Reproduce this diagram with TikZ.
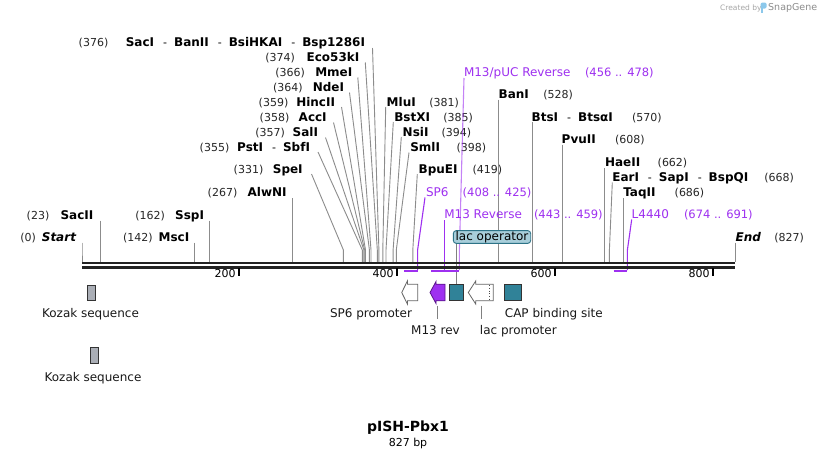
\documentclass[tikz,border=0pt]{standalone}
\usepackage{fontspec}
\setmainfont{DejaVu Sans}
\definecolor{prim}{RGB}{158,48,240}
\definecolor{primdark}{RGB}{90,20,140}
\definecolor{teal}{RGB}{48,130,152}
\definecolor{lacfill}{RGB}{168,206,218}
\definecolor{lacdraw}{RGB}{45,115,135}
\definecolor{kozak}{RGB}{170,174,182}
\definecolor{bbcol}{RGB}{34,34,34}
\definecolor{logoblue}{RGB}{140,200,235}
\newcommand\Sep{{\normalfont\fontsize{11}{13}\selectfont\hspace{9pt}-\hspace{7pt}}}
\newcommand\enz[9]{%
 \node[nmf,anchor=base #2] (#1) at (#3,#4+4.3) {#5};
 \node[nbf,anchor=base #2] (#1-n) at (#6,#4+4.3) {#7};
 \coordinate (#1-a) at (#8);
 \coordinate (#1-b) at (#9,250);
 \coordinate (#1-c) at (#9,262);
 \draw[enzline] (#1-a) -- (#1-b) -- (#1-c);
}
\begin{document}
\begin{tikzpicture}[x=1pt,y=-1pt,
  nmf/.style={inner sep=0,outer sep=0,font=\fontsize{12}{14}\selectfont\bfseries,text=black},
  nbf/.style={inner sep=0,outer sep=0,font=\fontsize{11}{13}\selectfont,text=black!85},
  enzline/.style={draw=black!45,line width=0.9pt},
  primline/.style={draw=prim,line width=1.1pt},
  primbar/.style={draw=prim,line width=2pt},
  primlbl/.style={inner sep=0,outer sep=0,font=\fontsize{12}{14}\selectfont,text=prim},
  primnum/.style={inner sep=0,outer sep=0,font=\fontsize{11.5}{13}\selectfont,text=prim},
  bb/.style={draw=bbcol,line width=2.8pt},
  tickmark/.style={draw=black,line width=2pt},
  featlbl/.style={inner sep=0,outer sep=0,font=\fontsize{12}{14}\selectfont,text=black!90},
  featline/.style={draw=black!50,line width=0.9pt},
  boxfeat/.style={draw=black!80,line width=0.8pt},
  lacbox/.style={draw=lacdraw,fill=lacfill,rounded corners=3pt,line width=0.9pt,inner sep=0,
     minimum width=77.4pt,minimum height=12.8pt,text height=8.6pt,text depth=2.4pt,
     font=\fontsize{12}{14}\selectfont,text=black}
]
\useasboundingbox (0,0) rectangle (818,458);
\fill[white] (0,0) rectangle (818,458);

% ---- left-side enzyme labels ----
\enz{e376}{east}{365}{42.3}{SacI\Sep BanII\Sep BsiHKAI\Sep Bsp1286I}{108.3}{(376)}{372.5,48}{378.9}
\enz{e374}{east}{359.3}{57.3}{Eco53kI}{295}{(374)}{365.3,62.5}{377.3}
\enz{e366}{east}{352.3}{72.3}{MmeI}{305}{(366)}{357.8,77.5}{371.0}
\enz{e364}{east}{344}{87.3}{NdeI}{302.7}{(364)}{349.5,92.5}{369.4}
\enz{e359}{east}{335}{101.7}{HincII}{288.3}{(359)}{341.5,107}{365.5}
\enz{e358}{east}{326.7}{117.3}{AccI}{289.3}{(358)}{333.5,122.5}{364.7}
\enz{e357}{east}{318}{132.3}{SalI}{285}{(357)}{325.5,137.5}{363.9}
\enz{e355}{east}{310}{146.7}{PstI\Sep SbfI}{229.3}{(355)}{318,152}{362.3}
\enz{e331}{east}{302.7}{169.3}{SpeI}{263.3}{(331)}{311.5,174}{343.4}
\enz{e267}{east}{286.7}{191.7}{AlwNI}{237.3}{(267)}{292.8,198}{292.8}
\enz{e23}{east}{93.3}{215}{SacII}{49.3}{(23)}{100.2,220.5}{100.2}
\enz{e162}{east}{204}{215}{SspI}{165}{(162)}{209.9,220.5}{209.9}
\enz{e142}{east}{189.3}{237.3}{MscI}{152.7}{(142)}{194.1,242.5}{194.1}
\enz{e0}{east}{76}{237.3}{\itshape Start}{36}{(0)}{82,242.5}{82}

% ---- right-side enzyme labels ----
\enz{e381}{west}{386.7}{101.7}{MluI}{429.3}{(381)}{385.7,107}{382.8}
\enz{e385}{west}{394.3}{116.7}{BstXI}{443.3}{(385)}{393.3,122}{386.0}
\enz{e394}{west}{402.7}{131.7}{NsiI}{441.7}{(394)}{401.3,137}{393.1}
\enz{e398}{west}{410.3}{147.3}{SmlI}{456.7}{(398)}{409,152.5}{396.3}
\enz{e419}{west}{418.7}{168.7}{BpuEI}{472.7}{(419)}{417.3,174}{412.8}
\enz{e528}{west}{498.7}{94}{BanI}{543.3}{(528)}{498.9,99.5}{498.9}
\enz{e570}{west}{531.7}{116.7}{BtsI\Sep BtsαI}{632}{(570)}{532.1,122}{532.1}
\enz{e608}{west}{561.7}{139}{PvuII}{615}{(608)}{562.1,144.5}{562.1}
\enz{e662}{west}{605}{162.3}{HaeII}{657.7}{(662)}{604.7,168}{604.7}
\enz{e668}{west}{612.3}{176.7}{EarI\Sep SapI\Sep BspQI}{764.3}{(668)}{612.3,182.5}{609.4}
\enz{e686}{west}{623.3}{192.3}{TaqII}{674.7}{(686)}{623.7,198}{623.7}
\enz{e827}{west}{735.7}{236.7}{\itshape End}{774.3}{(827)}{735,242.5}{735}

% ---- primers ----
\node[primlbl,anchor=base west] (pM13pUC) at (464,76) {M13/pUC Reverse};
\node[primnum,anchor=base west] (pM13pUC-n) at (585,76) {(456 .. 478)};
\node[primlbl,anchor=base west] (pSP6) at (426,196) {SP6};
\node[primnum,anchor=base west] (pSP6-n) at (462.7,196) {(408 .. 425)};
\node[primlbl,anchor=base west] (pM13) at (444.3,218.3) {M13 Reverse};
\node[primnum,anchor=base west] (pM13-n) at (534,218.3) {(443 .. 459)};
\node[primlbl,anchor=base west] (pL44) at (631.7,218.3) {L4440};
\node[primnum,anchor=base west] (pL44-n) at (684,218.3) {(674 .. 691)};

\coordinate (pM13pUC-a) at (464,78);
\coordinate (pM13pUC-b) at (459.4,250);
\coordinate (pM13pUC-c) at (459.4,270);
\coordinate (pSP6-a) at (425,197.5);
\coordinate (pSP6-b) at (417.6,250);
\coordinate (pSP6-c) at (417.6,270);
\coordinate (pM13-a) at (444.4,220);
\coordinate (pM13-c) at (444.4,270);
\coordinate (pL44-a) at (631.7,219.5);
\coordinate (pL44-b) at (627.4,250);
\coordinate (pL44-c) at (627.4,270);

% lac operator label and its line
\coordinate (lacA) at (456.7,243.5);
\coordinate (lacB) at (456.7,284);
\draw[featline] (lacA) -- (lacB);

\draw[primline,opacity=0.6] (pM13pUC-a) -- (pM13pUC-b) -- (pM13pUC-c);
\draw[primline] (pSP6-a) -- (pSP6-b) -- (pSP6-c);
\draw[primline] (pM13-a) -- (pM13-c);
\draw[primline] (pL44-a) -- (pL44-b) -- (pL44-c);

\node[lacbox] (lacop) at (492,237) {lac operator};

% ---- backbone ----
\coordinate (bbL1) at (82,263);
\coordinate (bbR1) at (735,263);
\coordinate (bbL2) at (82,267.2);
\coordinate (bbR2) at (735,267.2);
\draw[bb] (bbL1) -- (bbR1);
\draw[bb] (bbL2) -- (bbR2);

% ticks
\foreach \tx/\tl in {239/200,397/400,555/600,713/800}{
  \draw[tickmark] (\tx,268) -- (\tx,275.5);
  \node[nbf,anchor=base east,text=black] at (\tx-3.5,277.8) {\tl};
}

% primer bars
\draw[primbar] (404,270.8) -- (417.6,270.8);
\draw[primbar] (431,270.8) -- (459.4,270.8);
\draw[primbar] (613.5,270.8) -- (627.4,270.8);

% ---- features ----
% Kozak
\draw[boxfeat,fill=kozak] (87.3,285) rectangle (95.7,300.7);
\node[featlbl,anchor=base] (koz1) at (90.5,317.5) {Kozak sequence};
\draw[boxfeat,fill=kozak] (90,347.3) rectangle (98.3,363.3);
\node[featlbl,anchor=base] (koz2) at (93,381) {Kozak sequence};

% SP6 promoter (white arrow, left)
\draw[draw=black!60,fill=white,line width=0.8pt]
  (417.7,284.2) -- (407.4,284.2) -- (407.4,281) -- (401.7,292.5) -- (407.4,304) -- (407.4,300.8) -- (417.7,300.8) -- cycle;
\node[featlbl,anchor=base] (sp6p) at (371,317.5) {SP6 promoter};

% M13 rev (purple arrow, left)
\draw[draw=primdark,fill=prim,line width=0.8pt]
  (445,284.2) -- (436,284.2) -- (436,281.5) -- (430,292.5) -- (436,303.5) -- (436,300.8) -- (445,300.8) -- cycle;
\coordinate (m13r-a) at (437.3,305.5);
\coordinate (m13r-b) at (437.3,318.5);
\draw[featline] (m13r-a) -- (m13r-b);
\node[featlbl,anchor=base] (m13r) at (435.5,334.3) {M13 rev};

% lac operator box
\draw[boxfeat,fill=teal] (449.3,284.2) rectangle (463.3,300.8);

% lac promoter (white arrow with dotted part)
\draw[draw=black!60,fill=white,line width=0.8pt]
  (493.3,284.2) -- (475.7,284.2) -- (475.7,281) -- (468.3,292.5) -- (475.7,304) -- (475.7,300.8) -- (493.3,300.8) -- cycle;
\draw[black!70,line width=0.8pt,dotted] (489.3,285) -- (489.3,300);
\coordinate (lacp-a) at (481,305.5);
\coordinate (lacp-b) at (481,318.5);
\draw[featline] (lacp-a) -- (lacp-b);
\node[featlbl,anchor=base] (lacp) at (518.3,334.3) {lac promoter};

% CAP binding site
\draw[boxfeat,fill=teal] (504.3,284.2) rectangle (521.7,300.8);
\node[featlbl,anchor=base] (cap) at (553.8,317.5) {CAP binding site};

% ---- title ----
\node[inner sep=0,font=\fontsize{14}{16}\selectfont\bfseries,anchor=base] (title) at (408,431.8) {pISH-Pbx1};
\node[inner sep=0,font=\fontsize{11}{13}\selectfont,anchor=base] (bp) at (408,446.2) {827 bp};

% ---- logo ----
\node[inner sep=0,font=\fontsize{7.5}{9}\selectfont,text=black!35,anchor=base west] (cby) at (720,10.5) {Created by};
\fill[logoblue] (760.5,2.5) rectangle (762.8,13);
\fill[logoblue,rounded corners=1.5pt] (760.5,2.5) rectangle (766.5,8.5);
\node[inner sep=0,font=\fontsize{9.5}{11}\selectfont,text=black!45,anchor=base west] (sg) at (768,10.8) {SnapGene};
\end{tikzpicture}
\end{document}
